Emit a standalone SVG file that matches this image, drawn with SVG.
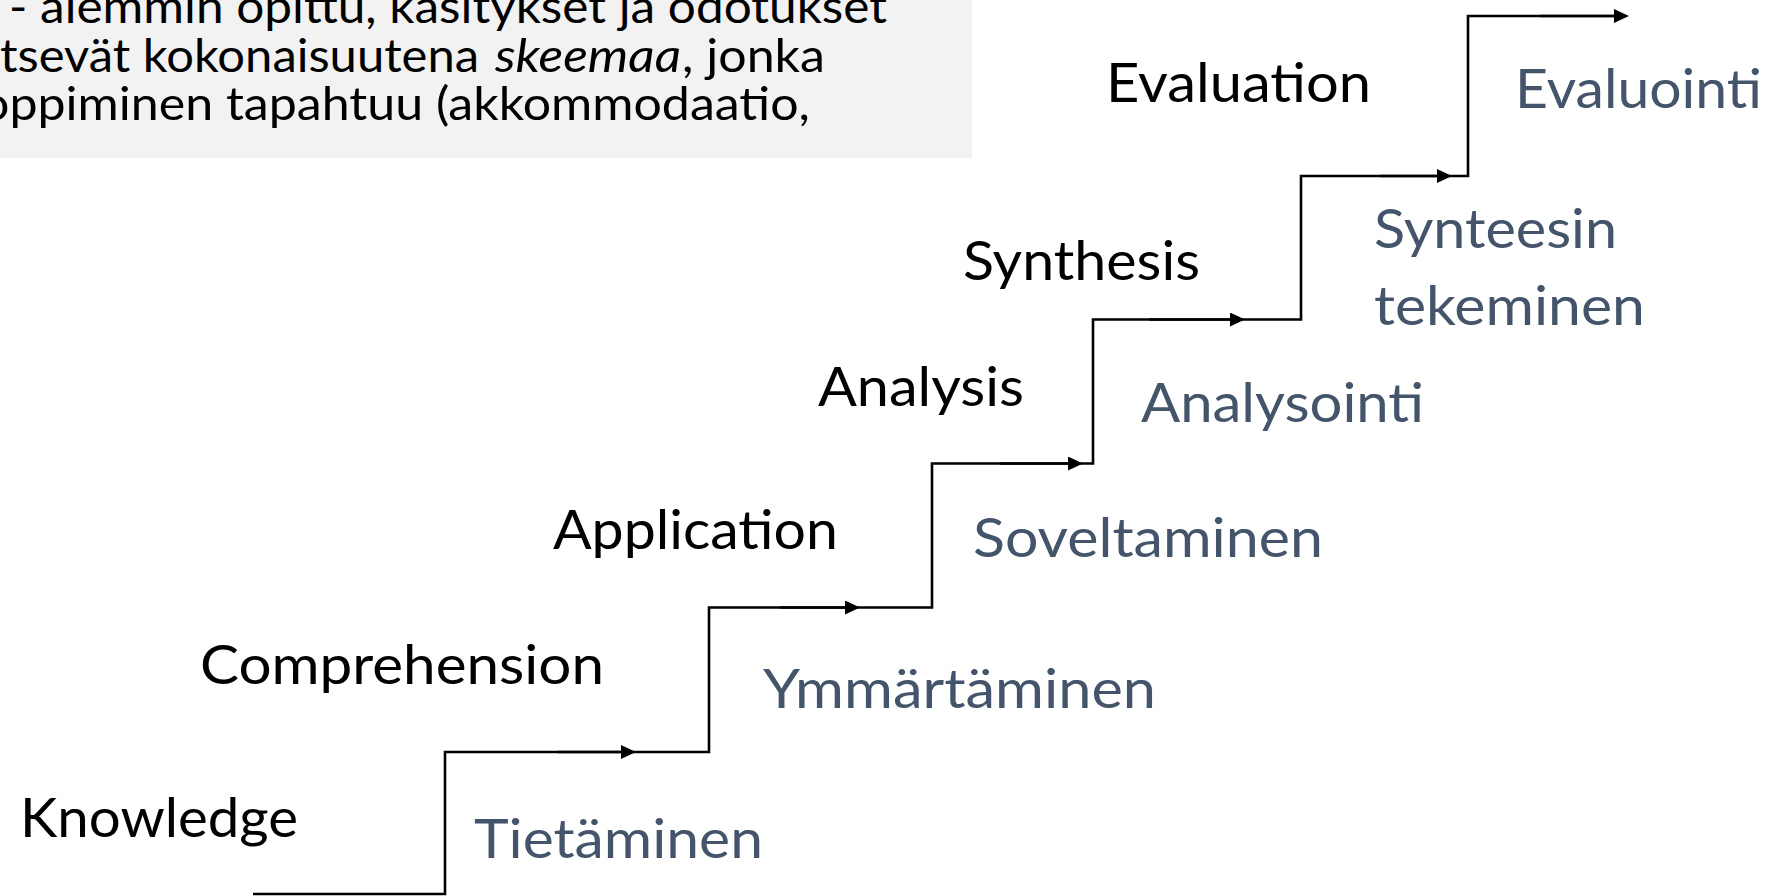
<svg xmlns="http://www.w3.org/2000/svg" width="1773" height="896" viewBox="0 0 1773 896">
  <style>
    .en { font-family: Lato, "Open Sans", sans-serif; font-size: 55px; fill: #000000; }
    .fi { font-family: Lato, "Open Sans", sans-serif; font-size: 55px; fill: #44546A; }
    .box { font-family: Lato, "Open Sans", sans-serif; font-size: 46px; fill: #000000; }
    .it { font-style: italic; }
    .step { fill: none; stroke: #000000; stroke-width: 2.6; }
    .arr { fill: none; stroke: #000000; stroke-width: 2.6; marker-end: url(#ah); }
  </style>
  <defs>
    <marker id="ah" viewBox="0 0 15 14" refX="9" refY="7" markerWidth="15" markerHeight="14" markerUnits="userSpaceOnUse" orient="auto">
      <path d="M0,0 L15,7 L0,14 Z" fill="#000000"/>
    </marker>
  </defs>
  <rect width="1773" height="896" fill="#FFFFFF"/>

  <g id="notebox">
    <rect x="0" y="0" width="972" height="158" fill="#F2F2F2"/>
    <text class="box" x="9" y="23" textLength="878" lengthAdjust="spacingAndGlyphs">- alemmin opittu, käsitykset ja odotukset</text>
    <text class="box" x="0" y="72" textLength="479" lengthAdjust="spacingAndGlyphs">tsevät kokonaisuutena</text>
    <text class="box it" x="495" y="72" textLength="186" lengthAdjust="spacingAndGlyphs">skeemaa</text>
    <text class="box" x="682" y="72" textLength="143" lengthAdjust="spacingAndGlyphs">, jonka</text>
    <text class="box" x="-19" y="120" textLength="829" lengthAdjust="spacingAndGlyphs">oppiminen tapahtuu (akkommodaatio,</text>
  </g>

  <g id="connectors">
    <path class="step" d="M253,894 H445 V752 H709 V607.5 H932 V463.5 H1093 V319.5 H1301 V176 H1468 V16 H1620"/>
    <line class="arr" x1="558" y1="752" x2="630" y2="752"/>
    <line class="arr" x1="780" y1="607.5" x2="854" y2="607.5"/>
    <line class="arr" x1="1000" y1="463.5" x2="1077" y2="463.5"/>
    <line class="arr" x1="1149" y1="319.5" x2="1239" y2="319.5"/>
    <line class="arr" x1="1380" y1="176" x2="1446" y2="176"/>
    <line class="arr" x1="1540" y1="16" x2="1623" y2="16"/>
  </g>

  <g id="knowledge">
    <text class="en" x="20" y="837" textLength="278" lengthAdjust="spacingAndGlyphs">Knowledge</text>
    <text class="fi" x="474" y="858" textLength="289" lengthAdjust="spacingAndGlyphs">Tietäminen</text>
  </g>
  <g id="comprehension">
    <text class="en" x="200" y="684" textLength="404" lengthAdjust="spacingAndGlyphs">Comprehension</text>
    <text class="fi" x="763" y="708" textLength="393" lengthAdjust="spacingAndGlyphs">Ymmärtäminen</text>
  </g>
  <g id="application">
    <text class="en" x="553" y="549" textLength="285" lengthAdjust="spacingAndGlyphs">Application</text>
    <text class="fi" x="973" y="557" textLength="350" lengthAdjust="spacingAndGlyphs">Soveltaminen</text>
  </g>
  <g id="analysis">
    <text class="en" x="818" y="406" textLength="206" lengthAdjust="spacingAndGlyphs">Analysis</text>
    <text class="fi" x="1141" y="422" textLength="283" lengthAdjust="spacingAndGlyphs">Analysointi</text>
  </g>
  <g id="synthesis">
    <text class="en" x="963" y="280" textLength="237" lengthAdjust="spacingAndGlyphs">Synthesis</text>
    <text class="fi" x="1374" y="248" textLength="243" lengthAdjust="spacingAndGlyphs">Synteesin</text>
    <text class="fi" x="1374" y="325" textLength="271" lengthAdjust="spacingAndGlyphs">tekeminen</text>
  </g>
  <g id="evaluation">
    <text class="en" x="1106" y="102" textLength="265" lengthAdjust="spacingAndGlyphs">Evaluation</text>
    <text class="fi" x="1515" y="108" textLength="247" lengthAdjust="spacingAndGlyphs">Evaluointi</text>
  </g>
</svg>
